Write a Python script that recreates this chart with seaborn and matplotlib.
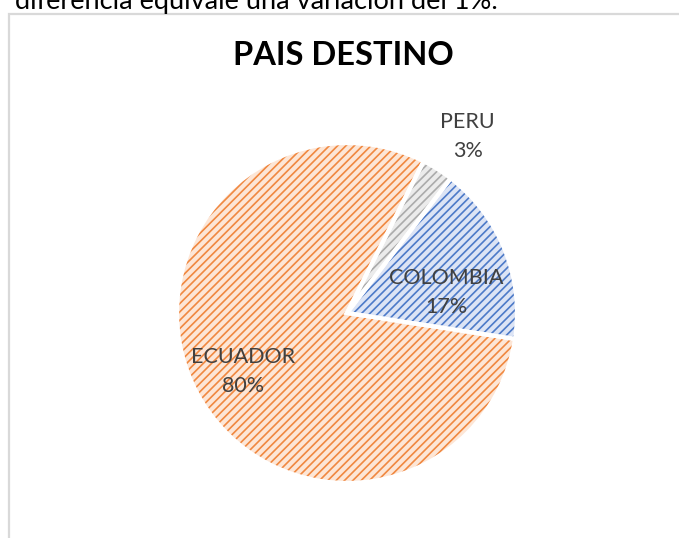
import matplotlib
matplotlib.use("Agg")
import matplotlib.pyplot as plt
import seaborn as sns
from matplotlib.patches import Rectangle

# ---- data ----
countries = ["ECUADOR", "PERU", "COLOMBIA"]
shares = [80, 3, 17]
line_colors = ["#F08840", "#ABABAB", "#4D7AC8"]
fill_colors = ["#FDE6D6", "#EBEBEB", "#DCE4F5"]
title = "PAIS DESTINO"
top_note = "diferencia equivale una variación del 1%."

# label positions (data coords of the unit pie)
label_xy = {"ECUADOR": (-0.61, -0.345), "PERU": (0.71, 1.04), "COLOMBIA": (0.585, 0.12)}

sns.set_theme(style="white")
plt.rcParams['font.family'] = ['Lato', 'DejaVu Sans']
plt.rcParams['hatch.linewidth'] = 1.2

W, H = 679, 538
fig = plt.figure(figsize=(W / 100, H / 100), dpi=100)
fig.patch.set_facecolor("white")

# chart frame (cropped)
fig.add_artist(Rectangle((8.5 / W, -0.1), 1.2, (H - 14) / H + 0.1,
                         transform=fig.transFigure, fill=False,
                         edgecolor="#D9D9D9", lw=1.6))

ax = fig.add_axes([177 / W, (H - 483) / H, 340 / W, 340 / H])
wedges, _ = ax.pie(shares, startangle=-8.8, counterclock=False,
                   colors=fill_colors, wedgeprops=dict(linewidth=0))
for w, c in zip(wedges, line_colors):
    w.set_hatch("////")
    w.set_edgecolor(c)
    w.set_linewidth(0)
ax.pie(shares, startangle=-8.8, counterclock=False, colors=["none"] * len(shares),
       wedgeprops=dict(linewidth=3, edgecolor="white"))
ax.set_xlim(-1, 1)
ax.set_ylim(-1, 1)
ax.set_aspect("equal")
ax.axis("off")

for name, val in zip(countries, shares):
    x, y = label_xy[name]
    ax.text(x, y, f"{name}\n{val}%", ha="center", va="center", fontsize=15.5,
            color="#404040", linespacing=1.55)

fig.text(343 / W, 1 - 65 / H, title, ha="center", va="baseline",
         fontsize=23.5, fontweight="bold", color="#000000")
fig.text(15 / W, 1 - 9 / H, top_note, ha="left", va="baseline",
         fontsize=19.5, color="#000000")

fig.savefig("out.png", dpi=100)
